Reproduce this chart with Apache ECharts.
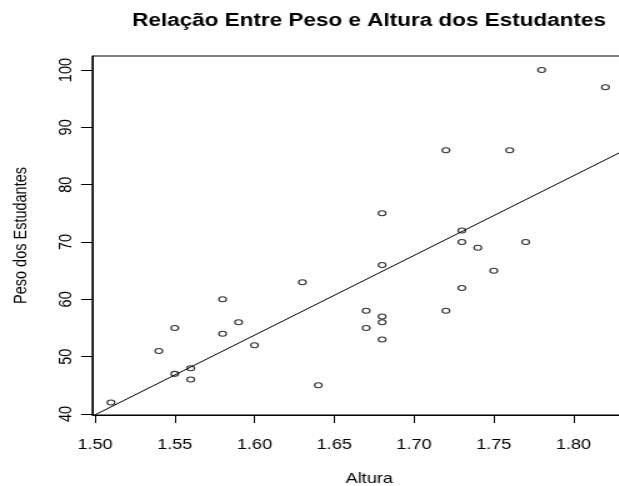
<!DOCTYPE html>
<html>
<head>
<meta charset="utf-8">
<script src="https://cdn.jsdelivr.net/npm/echarts@6/dist/echarts.min.js"></script>
<style>
html,body{margin:0;padding:0;background:#fff;overflow:hidden;}
#wrap{width:619px;height:486px;overflow:hidden;position:relative;background:#fff;}
#chart{width:517px;height:486px;transform:scaleX(1.25);transform-origin:0 0;}
</style>
</head>
<body>
<div id="wrap"><div id="chart"></div></div>
<script>
// ---- data ----
const alturas = [1.78, 1.82, 1.72, 1.76, 1.68, 1.73, 1.73, 1.74, 1.77, 1.68,
                 1.63, 1.58, 1.59, 1.58, 1.60, 1.55, 1.54, 1.56, 1.55, 1.56,
                 1.64, 1.51, 1.75, 1.73, 1.72, 1.67, 1.67, 1.68, 1.68, 1.68];
const pesos   = [100, 97, 86, 86, 75, 72, 70, 69, 70, 66,
                 63, 60, 56, 54, 52, 55, 51, 48, 47, 46,
                 45, 42, 65, 62, 58, 58, 55, 57, 56, 53];
const xTicks = [1.50, 1.55, 1.60, 1.65, 1.70, 1.75, 1.80];
const yTicks = [40, 50, 60, 70, 80, 90, 100];
const titulo = 'Relação Entre Peso e Altura dos Estudantes';
const xNome = 'Altura';
const yNome = 'Peso dos Estudantes';

// ---- least-squares fit (like abline(lm(peso ~ altura))) ----
const n = alturas.length;
const mx = alturas.reduce((a, b) => a + b, 0) / n;
const my = pesos.reduce((a, b) => a + b, 0) / n;
let sxy = 0, sxx = 0;
for (let i = 0; i < n; i++) {
  sxy += (alturas[i] - mx) * (pesos[i] - my);
  sxx += (alturas[i] - mx) * (alturas[i] - mx);
}
const slope = sxy / sxx;
const inter = my - slope * mx;

const xMin = 1.4983, xMax = 1.8456;
const yMin = 39.826, yMax = 102.45;

const pontos = alturas.map((a, i) => [a, pesos[i]]);
const linha = [[xMin, inter + slope * xMin], [xMax, inter + slope * xMax]];

const FONT = '"Liberation Sans", Arial, Helvetica, sans-serif';
const chart = echarts.init(document.getElementById('chart'), null, {renderer: 'canvas'});
chart.setOption({
  animation: false,
  backgroundColor: '#fff',
  title: {
    text: titulo,
    left: 295.2,
    textAlign: 'center',
    top: 12,
    padding: 0,
    textStyle: {fontFamily: FONT, fontSize: 18, fontWeight: 'bold', color: '#000'}
  },
  grid: {
    left: 73.84, right: 0, top: 56, bottom: 71,
    outerBoundsMode: 'none',
    show: true, borderColor: '#000', borderWidth: 1, backgroundColor: 'transparent',
    containLabel: false
  },
  xAxis: {
    type: 'value', min: xMin, max: xMax,
    name: xNome, nameLocation: 'middle', nameGap: 56,
    nameTextStyle: {fontFamily: FONT, fontSize: 14.5, color: '#000'},
    axisLine: {show: true, onZero: false, lineStyle: {color: '#000', width: 1}},
    axisTick: {show: true, length: 8, customValues: xTicks, lineStyle: {color: '#000', width: 1}},
    axisLabel: {show: true, margin: 22, customValues: xTicks,
      formatter: v => v.toFixed(2),
      fontFamily: FONT, fontSize: 14.5, color: '#000'},
    splitLine: {show: false}
  },
  yAxis: {
    type: 'value', min: yMin, max: yMax,
    name: yNome, nameLocation: 'middle', nameGap: 49, nameRotate: 90,
    nameTextStyle: {fontFamily: FONT, fontSize: 14.5, color: '#000'},
    axisLine: {show: true, onZero: false, lineStyle: {color: '#000', width: 1}},
    axisTick: {show: true, length: 9, customValues: yTicks, lineStyle: {color: '#000', width: 1}},
    axisLabel: {show: true, margin: 13, rotate: 90, customValues: yTicks,
      fontFamily: FONT, fontSize: 14.5, color: '#000'},
    splitLine: {show: false}
  },
  series: [
    {
      type: 'scatter',
      data: pontos,
      symbol: 'circle',
      symbolSize: [6, 5],
      itemStyle: {color: 'rgba(0,0,0,0)', borderColor: '#000', borderWidth: 1.1},
      emphasis: {disabled: true},
      z: 2
    },
    {
      type: 'line',
      data: linha,
      showSymbol: false,
      symbol: 'none',
      lineStyle: {color: '#000', width: 1},
      emphasis: {disabled: true},
      z: 3
    }
  ]
});
</script>
</body>
</html>
